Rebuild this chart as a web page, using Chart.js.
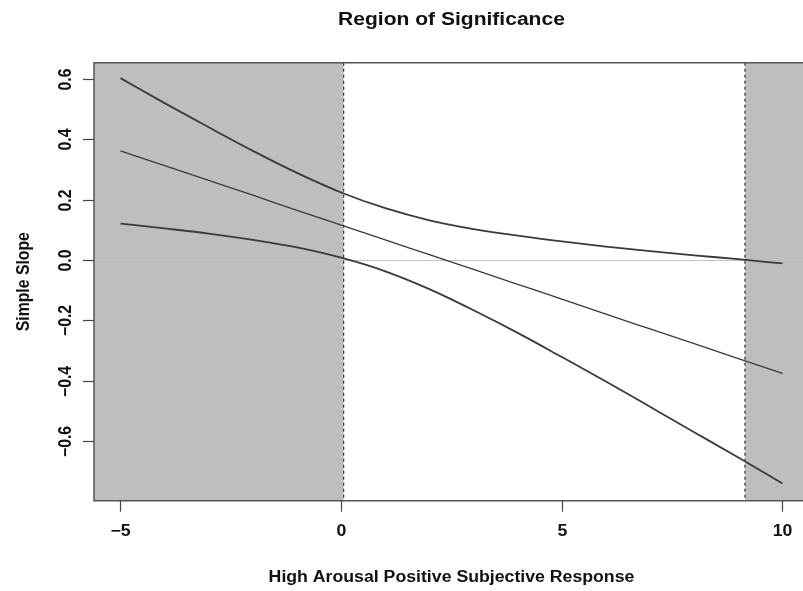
<!DOCTYPE html>
<html>
<head>
<meta charset="utf-8">
<script src="https://cdn.jsdelivr.net/npm/chart.js@4/dist/chart.umd.min.js"></script>
<style>
html,body{margin:0;padding:0;background:#fff;}
#wrap{width:803px;height:591px;}
</style>
</head>
<body>
<div id="wrap"><canvas id="c" width="803" height="591"></canvas></div>
<script>
// ---- data ----
const xValues   = [-5, -4, -3, -2, -1, 0, 1, 2, 3, 4, 5, 6, 7, 8, 9, 10];
const upperBand = [0.603, 0.520, 0.440, 0.362, 0.289, 0.224, 0.172, 0.132, 0.103, 0.081, 0.062, 0.045, 0.030, 0.016, 0.003, -0.011];
const simpleSlope = [0.362, 0.313, 0.264, 0.215, 0.165, 0.116, 0.067, 0.018, -0.031, -0.080, -0.129, -0.179, -0.228, -0.277, -0.326, -0.375];
const lowerBand = [0.121, 0.105, 0.088, 0.067, 0.042, 0.008, -0.037, -0.096, -0.166, -0.241, -0.321, -0.402, -0.486, -0.570, -0.654, -0.740];
const regionBounds = [0.057, 9.15];   // boundaries of the region of significance
const xTicks = [-5, 0, 5, 10];
const yTicks = [-0.6, -0.4, -0.2, 0.0, 0.2, 0.4, 0.6];
const xTickLabels = ['\u22125', '0', '5', '10'];
const yTickLabels = ['\u22120.6', '\u22120.4', '\u22120.2', '0.0', '0.2', '0.4', '0.6'];
const titleText = 'Region of Significance';
const xTitle = 'High Arousal Positive Subjective Response';
const yTitle = 'Simple Slope';

const toPts = arr => xValues.map((x, i) => ({x: x, y: arr[i]}));
const FONT = '"Liberation Sans", Arial, Helvetica, sans-serif';
const INK = '#3a3a3a';
const STRETCH = 1.12;   // the picture is wider than it is tall

function text(ctx, str, x, y, size, rotate) {
  ctx.save();
  ctx.translate(x, y);
  ctx.scale(STRETCH, 1);
  if (rotate) ctx.rotate(-Math.PI / 2);
  ctx.font = 'bold ' + size + 'px ' + FONT;
  ctx.textAlign = 'center';
  ctx.textBaseline = 'middle';
  ctx.fillText(str, 0, 0);
  ctx.restore();
}

const decor = {
  id: 'decor',
  beforeDatasetsDraw(chart) {
    const {ctx, chartArea: a, scales: {x, y}} = chart;
    ctx.save();
    ctx.fillStyle = '#bebebe';
    const l = x.getPixelForValue(regionBounds[0]);
    const r = x.getPixelForValue(regionBounds[1]);
    ctx.fillRect(a.left, a.top, l - a.left, a.bottom - a.top);
    ctx.fillRect(r, a.top, a.right - r + 20, a.bottom - a.top);
    ctx.strokeStyle = '#c4c4c4';
    ctx.lineWidth = 1;
    const y0 = Math.round(y.getPixelForValue(0)) + 0.5;
    ctx.beginPath(); ctx.moveTo(a.left, y0); ctx.lineTo(a.right, y0); ctx.stroke();
    ctx.strokeStyle = '#333';
    ctx.setLineDash([3, 3]);
    ctx.lineWidth = 1.2;
    [l, r].forEach(px => { ctx.beginPath(); ctx.moveTo(px, a.top); ctx.lineTo(px, a.bottom); ctx.stroke(); });
    ctx.restore();
  },
  afterDraw(chart) {
    const {ctx, chartArea: a, scales: {x, y}} = chart;
    ctx.save();
    ctx.strokeStyle = '#555';
    ctx.lineWidth = 1.5;
    ctx.beginPath();
    ctx.moveTo(chart.width + 5, a.top); ctx.lineTo(a.left, a.top);
    ctx.lineTo(a.left, a.bottom); ctx.lineTo(chart.width + 5, a.bottom);
    ctx.stroke();
    ctx.strokeStyle = '#444';
    ctx.lineWidth = 1.2;
    ctx.fillStyle = '#111';
    xTicks.forEach((v, i) => {
      const px = Math.round(x.getPixelForValue(v)) + 0.5;
      ctx.beginPath(); ctx.moveTo(px, a.bottom); ctx.lineTo(px, a.bottom + 11); ctx.stroke();
      text(ctx, xTickLabels[i], px, a.bottom + 31, 15.8, false);
    });
    yTicks.forEach((v, i) => {
      const py = Math.round(y.getPixelForValue(v)) + 0.5;
      ctx.beginPath(); ctx.moveTo(a.left, py); ctx.lineTo(a.left - 11, py); ctx.stroke();
      text(ctx, yTickLabels[i], a.left - 28, py, 15.8, true);
    });
    const cx = (a.left + x.getPixelForValue(10.6)) / 2;
    text(ctx, titleText, cx, 20, 18.8, false);
    text(ctx, xTitle, cx, 578, 15.8, false);
    text(ctx, yTitle, 24, (a.top + a.bottom) / 2, 15.8, true);
    ctx.restore();
  }
};

const lineDs = (data, w) => ({
  data: toPts(data), borderColor: INK, borderWidth: w, pointRadius: 0,
  fill: false, cubicInterpolationMode: 'monotone', showLine: true
});

new Chart(document.getElementById('c'), {
  type: 'scatter',
  data: { datasets: [ lineDs(upperBand, 1.8), lineDs(simpleSlope, 1.3), lineDs(lowerBand, 1.8) ] },
  options: {
    responsive: false,
    animation: false,
    devicePixelRatio: 1,
    layout: { padding: { left: 94, top: 62.7, right: 0, bottom: 90.3 } },
    plugins: { legend: { display: false }, tooltip: { enabled: false } },
    scales: {
      x: { type: 'linear', display: false, min: -5.6, max: 10.465 },
      y: { type: 'linear', display: false, min: -0.797, max: 0.654 }
    }
  },
  plugins: [decor]
});
</script>
</body>
</html>
